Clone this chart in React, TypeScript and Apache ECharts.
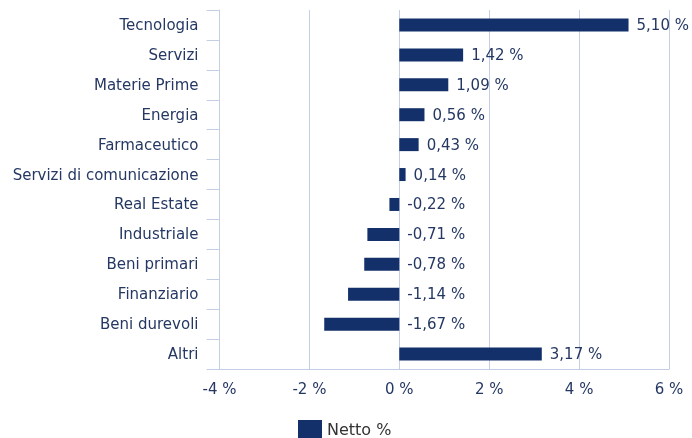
import React, { useEffect, useRef } from "react";
import * as echarts from "echarts";

const categories = [
  "Tecnologia",
  "Servizi",
  "Materie Prime",
  "Energia",
  "Farmaceutico",
  "Servizi di comunicazione",
  "Real Estate",
  "Industriale",
  "Beni primari",
  "Finanziario",
  "Beni durevoli",
  "Altri",
];
const nettoValues = [5.1, 1.42, 1.09, 0.56, 0.43, 0.14, -0.22, -0.71, -0.78, -1.14, -1.67, 3.17];
const seriesName = "Netto %";
const xMin = -4;
const xMax = 6;
const xInterval = 2;

const TEXT = "#253863";
const BAR = "#13306a";
const GRID = "#c2cfe6";
const FONT = "'DejaVu Sans', Verdana, sans-serif";

export default function App() {
  const ref = useRef<HTMLDivElement>(null);
  useEffect(() => {
    if (!ref.current) return;
    const chart = echarts.init(ref.current, undefined, { renderer: "svg" });
    chart.setOption({
      animation: false,
      textStyle: { fontFamily: FONT },
      grid: { left: 219.5, right: 23, top: 10, bottom: 69, containLabel: false },
      legend: {
        top: 420,
        left: 298,
        padding: 0,
        itemWidth: 24,
        itemHeight: 18,
        itemGap: 8,
        textStyle: { fontFamily: FONT, fontSize: 16, color: "#333" },
        data: [{ name: seriesName, icon: "rect" }],
      },
      xAxis: {
        type: "value",
        min: xMin,
        max: xMax,
        interval: xInterval,
        axisLine: { show: true, lineStyle: { color: GRID, width: 1 } },
        axisTick: { show: false },
        splitLine: { show: true, lineStyle: { color: GRID, width: 1 } },
        axisLabel: {
          fontFamily: FONT,
          fontSize: 15,
          color: TEXT,
          margin: 12,
          formatter: (v: number) => `${v} %`,
        },
      },
      yAxis: {
        type: "category",
        inverse: true,
        data: categories,
        axisLine: { show: true, onZero: false, lineStyle: { color: GRID, width: 1 } },
        axisTick: { show: true, length: 13, lineStyle: { color: GRID } },
        axisLabel: { fontFamily: FONT, fontSize: 15, color: TEXT, margin: 21 },
        splitLine: { show: false },
      },
      series: [
        {
          name: seriesName,
          type: "bar",
          data: nettoValues,
          barWidth: 13,
          itemStyle: { color: BAR },
          label: {
            show: true,
            position: "right",
            distance: 8,
            fontFamily: FONT,
            fontSize: 15,
            color: TEXT,
            formatter: (p: any) => `${(p.value as number).toFixed(2).replace(".", ",")} %`,
          },
        },
      ],
    });
    return () => chart.dispose();
  }, []);
  return (
    <div
      ref={ref}
      style={{ position: "fixed", left: 0, top: 0, width: 692, height: 438 }}
    />
  );
}
